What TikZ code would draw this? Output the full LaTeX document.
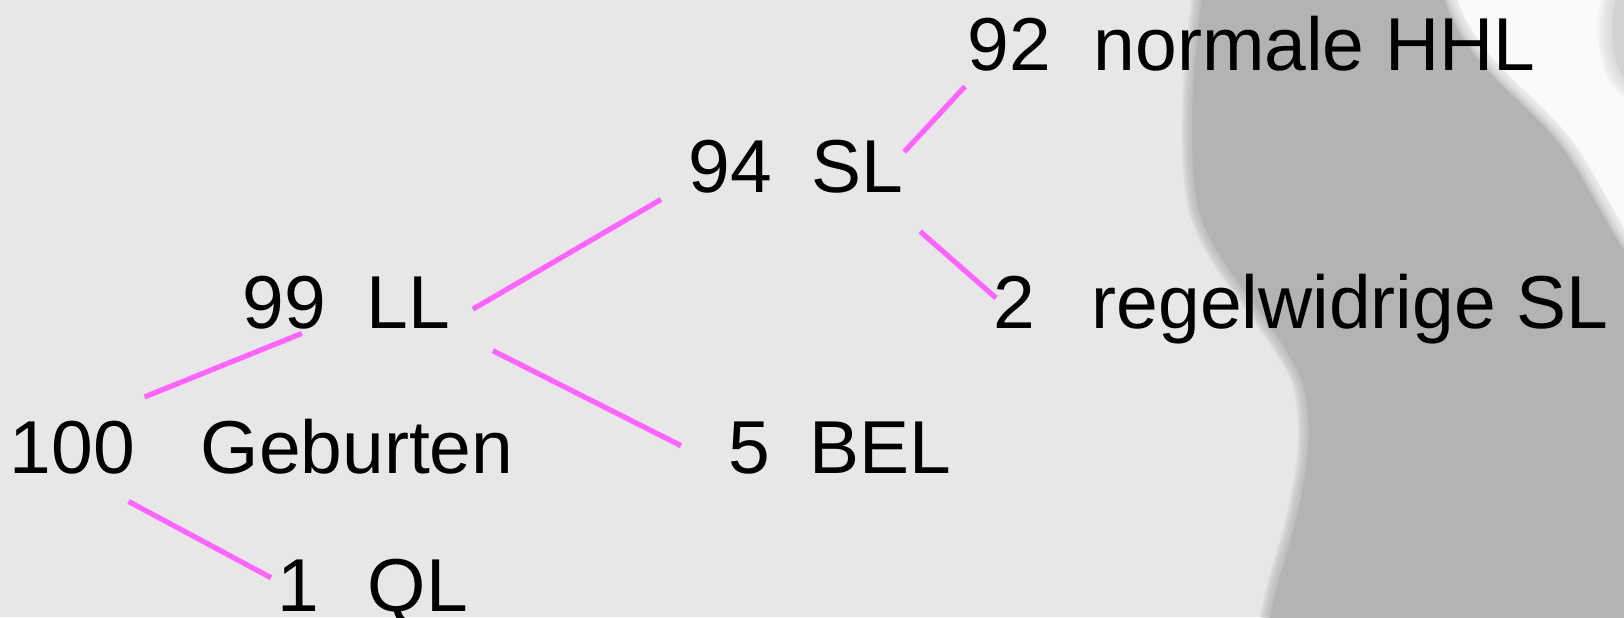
\documentclass[tikz,border=0pt]{standalone}
\usepackage{fontspec}
\setmainfont{Liberation Sans}
\usetikzlibrary{calc}
\definecolor{bgl}{RGB}{231,231,231}
\definecolor{bgd}{RGB}{179,179,179}
\definecolor{bgw}{RGB}{250,250,250}
\definecolor{bgm}{RGB}{210,210,210}
\definecolor{pinkline}{RGB}{255,102,255}
\begin{document}
\begin{tikzpicture}[x=0.1mm,y=-0.1mm,
  lbl/.style={anchor=base west, inner sep=0pt, font=\fontsize{21.34}{25}\selectfont},
  link/.style={draw=pinkline, line width=1.5pt},
  feather/.style={fill=#1, draw=#1, line join=round}]
\useasboundingbox (0,0) rectangle (1624,617);
\clip (0,0) rectangle (1624,617);
\fill[bgl] (0,0) rectangle (1624,617);
% dark region on the right (soft edge)
\def\darkpath{(1205,-20) .. controls (1192,60) and (1188,150) .. (1197,200) .. controls (1207,260) and (1277,320) .. (1302,380) .. controls (1316,430) and (1306,480) .. (1293,533) .. controls (1281,575) and (1271,600) .. (1268,640) -- (1700,640) -- (1700,-20) -- cycle}
\foreach \w in {6,5,4,3,2,1}{
  \path[feather=bgd, line width=\w pt, opacity=0.2] \darkpath;
}
\fill[bgd] \darkpath;
% white blob top right
\def\whitepath{(1452,-20) .. controls (1466,50) and (1525,85) .. (1562,128) .. controls (1590,160) and (1606,200) .. (1632,240) -- (1700,240) -- (1700,-20) -- cycle}
\foreach \w in {7,6,5,4,3,2,1}{
  \path[feather=bgw, line width=\w pt, opacity=0.2] \whitepath;
}
\fill[bgw] \whitepath;
% grey patch at right edge
\foreach \w in {8,6.5,5,3.5,2}{
  \path[feather=bgm, line width=\w pt, opacity=0.2] (1636,30) ellipse [x radius=24, y radius=55];
}
\fill[bgm] (1636,30) ellipse [x radius=24, y radius=55];

% labels
\node[lbl] (n100) at (9,473) {100};
\node[lbl] (tGeb) at (200,473) {Geburten};
\node[lbl] (n99) at (242,328) {99};
\node[lbl] (tLL) at (366,328) {LL};
\node[lbl] (n94) at (688,192) {94};
\node[lbl] (tSL) at (811,192) {SL};
\node[lbl] (n92) at (967,70) {92};
\node[lbl] (tHHL) at (1093,70) {normale HHL};
\node[lbl] (n2) at (993,328) {2};
\node[lbl] (tRSL) at (1091,328) {regelwidrige SL};
\node[lbl] (n5) at (728,473) {5};
\node[lbl] (tBEL) at (809,473) {BEL};
\node[lbl] (n1) at (277,611) {1};
\node[lbl] (tQL) at (367,611) {QL};

% connectors
\draw[link] ([shift={(9,-23)}]n100.north east) -- ([shift={(-25,4)}]n99.south east);
\draw[link] ([shift={(-7,27)}]n100.south east) -- ([shift={(-6,19)}]n1.north west);
\draw[link] ([shift={(22,7)}]tLL.east) -- ([shift={(-27,6)}]n94.south west);
\draw[link] ([shift={(42,22)}]tLL.south east) -- ([shift={(-47,25)}]n5.north west);
\draw[link] ([shift={(0,13)}]tSL.north east) -- ([shift={(-2,15)}]n92.south west);
\draw[link] ([shift={(16,38)}]tSL.south east) -- ([shift={(3,23)}]n2.north west);
\end{tikzpicture}
\end{document}
